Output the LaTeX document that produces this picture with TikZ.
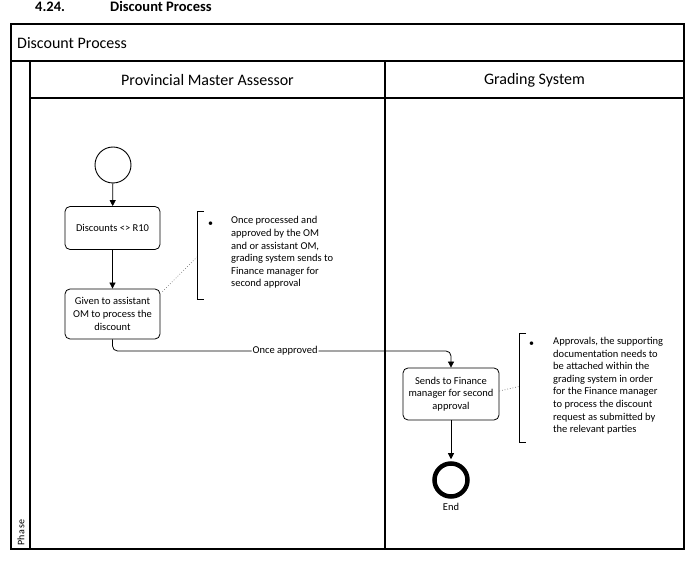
\documentclass[tikz,border=0pt]{standalone}
\usepackage{fontspec}
\setmainfont{Carlito}
\usetikzlibrary{arrows.meta}
\begin{document}
\begin{tikzpicture}[x=1pt,y=-1pt,
  frame/.style={line width=1.1pt},
  hdr/.style={font=\fontsize{16}{18}\selectfont, inner sep=0},
  task/.style={draw, rounded corners=5pt, minimum width=95pt, align=center,
    font=\fontsize{10.5}{12.6}\selectfont, line width=0.8pt, inner sep=1pt},
  note/.style={align=left, anchor=north west, inner sep=0,
    font=\fontsize{10.5}{12.6}\selectfont},
  flow/.style={-{Triangle[length=6pt,width=6pt]}, line width=0.8pt, rounded corners=5pt},
  small/.style={font=\fontsize{10.5}{12.6}\selectfont, inner sep=1pt},
  assoc/.style={dotted, line width=0.7pt, gray!80!black},
  brk/.style={line width=0.8pt}
]
\useasboundingbox (0,0) rectangle (694,569);
% heading
\node[anchor=base west, inner sep=0, font=\fontsize{14.5}{16}\bfseries] (hnum) at (35,11.5) {4.24.};
\node[anchor=base west, inner sep=0, font=\fontsize{14.5}{16}\bfseries] (htitle) at (110,11.5) {Discount Process};
% pool frame
\draw[frame] (11,24) rectangle (684,549);
\draw[frame] (11,61) -- (684,61);
\draw[frame] (30,61) -- (30,549);
\draw[frame] (30,98) -- (684,98);
\draw[frame] (385,61) -- (385,549);
\node[hdr, anchor=west] (pool) at (17,43) {Discount Process};
\node[hdr] (lane1) at (207.5,80) {Provincial Master Assessor};
\node[hdr] (lane2) at (534.5,80) {Grading System};
\node[rotate=90, anchor=west, inner sep=0, font=\fontsize{10}{12}\selectfont] (phase) at (21,546) {P\kern0.6pt h\kern0.6pt a\kern0.6pt s\kern0.6pt e};
% flow nodes
\node[circle, draw, minimum size=36pt, inner sep=0, line width=0.9pt] (start) at (113,165) {};
\node[task, minimum height=43pt] (d) at (112.5,228) {Discounts <> R10};
\node[task, minimum height=50pt] (g) at (112.5,314) {Given to assistant\\OM to process the\\discount};
\node[task, minimum width=96pt, minimum height=52pt] (s) at (451,394) {Sends to Finance\\manager for second\\approval};
\node[circle, draw, line width=4.5pt, minimum size=33pt, inner sep=0] (end) at (451,480) {};
\node[small] (endlbl) at (451,506.5) {End};
% connectors
\draw[flow] (start) -- (d);
\draw[flow] (d) -- (g);
\coordinate (turn) at (451,351);
\draw[flow] (g.south) |- node[pos=0.755, fill=white, small] (once) {Once approved} (turn) -- (s.north);
\draw[flow] (s) -- ([yshift=2pt]end.north);
% annotation 1
\coordinate (b1t) at (204,211);
\coordinate (b1b) at (204,299);
\draw[brk] (b1t) -- (197,211) -- (197,299) -- (b1b);
\node[inner sep=0, font=\fontsize{10}{10}\selectfont] (bul1) at (210.5,224) {\textbullet};
\node[note] (n1) at (231,216.5) {Once processed and\\approved by the OM\\and or assistant OM,\\grading system sends to\\Finance manager for\\second approval};
\draw[assoc] ([xshift=2pt,yshift=-3pt]g.north east) -- (197,257);
% annotation 2
\coordinate (b2t) at (526,333);
\coordinate (b2b) at (526,442);
\draw[brk] (b2t) -- (519,333) -- (519,442) -- (b2b);
\node[inner sep=0, font=\fontsize{10}{10}\selectfont] (bul2) at (531.5,344) {\textbullet};
\node[note] (n2) at (553,337) {Approvals, the supporting\\documentation needs to\\be attached within the\\grading system in order\\for the Finance manager\\to process the discount\\request as submitted by\\the relevant parties};
\draw[assoc] ([yshift=3pt]s.east) -- (519,386.5);
\end{tikzpicture}
\end{document}
